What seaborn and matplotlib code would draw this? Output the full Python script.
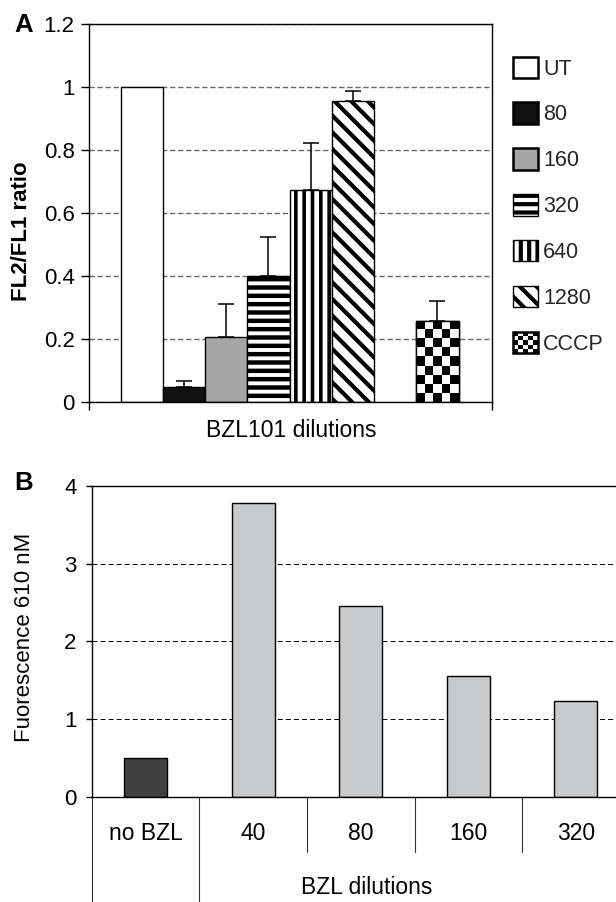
import matplotlib
matplotlib.use("Agg")
import matplotlib.pyplot as plt
import seaborn as sns
import numpy as np
import pandas as pd
from matplotlib.patches import Patch, Rectangle
from matplotlib.legend_handler import HandlerPatch
from matplotlib.transforms import blended_transform_factory

# ---------------- data ----------------
# Panel A
cond_a = ["UT", "80", "160", "320", "640", "1280", "CCCP"]
ratio_a = [1.0, 0.047, 0.206, 0.401, 0.675, 0.957, 0.258]
err_a = [0.0, 0.021, 0.105, 0.122, 0.146, 0.029, 0.062]
slot_order_a = ["UT", "80", "160", "320", "640", "1280", " ", "CCCP"]
yticks_a = [0, 0.2, 0.4, 0.6, 0.8, 1.0, 1.2]
yticklabels_a = ["0", "0.2", "0.4", "0.6", "0.8", "1", "1.2"]

# Panel B
dil_b = ["no BZL", "40", "80", "160", "320"]
fluor_b = [0.50, 3.78, 2.46, 1.56, 1.23]
yticks_b = [0, 1, 2, 3, 4]
group_b = ["", "BZL dilutions"]

# ---------------- style ----------------
sns.set_theme(style="white")
plt.rcParams["font.family"] = ["Liberation Sans", "DejaVu Sans"]
plt.rcParams["hatch.linewidth"] = 3.0
plt.rcParams["lines.scale_dashes"] = False

W, H, DPI = 616, 902, 100
fig = plt.figure(figsize=(W / DPI, H / DPI), dpi=DPI)
fig.patch.set_facecolor("white")


def rect(l, t, r, b):
    return [l / W, 1 - b / H, (r - l) / W, (b - t) / H]


def fx(x):
    return x / W


def fy(y):
    return 1 - y / H


face_a = {"UT": "white", "80": "#111111", "160": "#a6a6a6", "320": "white",
          "640": "white", "1280": "white", "CCCP": "white"}
hatch_a = {"320": "--", "640": "||", "1280": "\\\\"}
hatch_lw_a = {"320": 3.2, "640": 2.6, "1280": 3.0}

# ---------------- panel A ----------------
axA = fig.add_axes(rect(89.3, 24, 492.3, 402.3))
dfA = pd.DataFrame({"cond": cond_a, "ratio": ratio_a})
sns.barplot(data=dfA, x="cond", y="ratio", hue="cond", order=slot_order_a,
            palette=face_a, saturation=1, width=1.0, edgecolor="black",
            linewidth=1.0, errorbar=None, legend=False, ax=axA)
axA.set_xlim(-1.24, 8.30)
axA.set_ylim(0, 1.2)

err_lookup = dict(zip(cond_a, err_a))
for p in list(axA.patches):
    cx = p.get_x() + p.get_width() / 2
    idx = int(round(cx))
    name = slot_order_a[idx]
    p.set_edgecolor("black")
    p.set_linewidth(1.0)
    p.set_zorder(2)
    if name in hatch_a:
        p.set_hatch(hatch_a[name])
        if hasattr(p, "set_hatch_linewidth"):
            p.set_hatch_linewidth(hatch_lw_a[name])
    if name == "CCCP":
        x0, x1 = p.get_x(), p.get_x() + p.get_width()
        y0, y1 = 0, p.get_height()
        (px0, py0), (px1, py1) = axA.transData.transform([(x0, y0), (x1, y1)])
        nx = max(1, int(round((px1 - px0) / 9.0)))
        ny = max(1, int(round((py1 - py0) / 9.0)))
        ii, jj = np.meshgrid(np.arange(nx), np.arange(ny))
        board = ((ii + jj) % 2).astype(float)
        im = axA.imshow(board, extent=(x0, x1, y0, y1), cmap="gray",
                        interpolation="nearest", aspect="auto", zorder=2.1,
                        origin="upper")
        im.set_clip_path(p)
        axA.add_patch(Rectangle((x0, y0), x1 - x0, y1 - y0, fill=False,
                                edgecolor="black", linewidth=1.0, zorder=2.2))
    e = err_lookup.get(name, 0)
    if e > 0:
        axA.errorbar(cx, p.get_height(), yerr=[[0], [e]], fmt="none",
                     ecolor="black", elinewidth=1.1, capsize=6.1,
                     capthick=1.1, zorder=3)
axA.set_xlim(-1.24, 8.30)
axA.set_ylim(0, 1.2)
axA.set_aspect("auto")

axA.set_yticks(yticks_a)
axA.set_yticklabels(yticklabels_a)
axA.set_xticks(list(axA.get_xlim()))
axA.set_xticklabels(["", ""])
axA.set_xlabel("")
axA.set_ylabel("")
axA.yaxis.grid(True, color="#6a6a6a", linestyle=(0, (3.8, 2.0)), linewidth=1.0)
axA.xaxis.grid(False)
axA.set_axisbelow(True)
axA.tick_params(axis="y", left=True, direction="out", length=5.5, width=1.0,
                pad=5.0, labelsize=16, color="black", labelcolor="black")
axA.tick_params(axis="x", bottom=True, direction="out", length=5.5, width=1.0,
                color="black")
for s in axA.spines.values():
    s.set_visible(True)
    s.set_color("black")
    s.set_linewidth(1.0)

fig.text(fx(290.8), fy(430), "BZL101 dilutions", ha="center", va="center",
         fontsize=16.5, color="black")
fig.text(fx(22), fy(231.5), "FL2/FL1 ratio", ha="center", va="center",
         rotation=90, fontsize=16, fontweight="bold", color="black")
fig.text(fx(24), fy(25), "A", ha="center", va="center", fontsize=18.5,
         fontweight="bold", color="black")


# legend for panel A
class CheckerHandler(HandlerPatch):
    def create_artists(self, legend, orig_handle, xdescent, ydescent, width,
                       height, fontsize, trans):
        n = 5
        arts = [Rectangle((-xdescent, -ydescent), width, height,
                          facecolor="white", edgecolor="none", transform=trans)]
        sw, sh = width / n, height / n
        for i in range(n):
            for j in range(n):
                if (i + j) % 2 == 0:
                    arts.append(Rectangle((-xdescent + i * sw, -ydescent + j * sh),
                                          sw, sh, facecolor="black",
                                          edgecolor="none", transform=trans))
        arts.append(Rectangle((-xdescent, -ydescent), width, height,
                              facecolor="none", edgecolor="black", lw=1.8,
                              transform=trans))
        return arts


handles = []
hmap = {}
for name in cond_a:
    if name == "CCCP":
        h = Patch(facecolor="white", edgecolor="black", linewidth=1.8)
        hmap[h] = CheckerHandler()
    else:
        h = Patch(facecolor=face_a[name], edgecolor="black",
                  linewidth=1.8 if name not in hatch_a else 1.0,
                  hatch=hatch_a.get(name))
    handles.append(h)
fig.legend(handles, cond_a, loc="upper left",
           bbox_to_anchor=(fx(513), fy(56.5)), frameon=False, fontsize=15.5,
           handlelength=1.16, handleheight=1.16, handletextpad=0.25,
           labelspacing=1.06, borderpad=0, borderaxespad=0, handler_map=hmap)

# ---------------- panel B ----------------
axB = fig.add_axes(rect(91.7, 485.7, 629.7, 797))
dfB = pd.DataFrame({"dil": dil_b, "fluor": fluor_b})
pal_b = {d: ("#404040" if i == 0 else "#c8c9cb") for i, d in enumerate(dil_b)}
sns.barplot(data=dfB, x="dil", y="fluor", hue="dil", order=dil_b,
            palette=pal_b, saturation=1, width=0.4, edgecolor="black",
            linewidth=1.0, errorbar=None, legend=False, ax=axB)
for p in axB.patches:
    p.set_edgecolor("black")
    p.set_linewidth(1.0)
    p.set_zorder(2)
axB.set_xlim(-0.5, len(dil_b) - 0.5)
axB.set_ylim(0, 4)
axB.set_yticks(yticks_b)
axB.set_yticklabels([str(v) for v in yticks_b])
axB.set_xlabel("")
axB.set_ylabel("")
axB.yaxis.grid(True, color="black", linestyle=(0, (3.6, 2.2)), linewidth=0.7)
axB.xaxis.grid(False)
axB.set_axisbelow(True)
axB.tick_params(axis="y", left=True, direction="out", length=4.5, width=1.0,
                pad=6.5, labelsize=16, color="black", labelcolor="black")
axB.tick_params(axis="x", bottom=False, length=0, pad=18, labelsize=16.5,
                labelcolor="black")
for s in axB.spines.values():
    s.set_visible(True)
    s.set_color("black")
    s.set_linewidth(1.0)

# multi-level category separators
trB = blended_transform_factory(axB.transData, fig.transFigure)
bounds = np.arange(len(dil_b) + 1) - 0.5
outer = [bounds[0], bounds[1]]
for b in bounds:
    if b in outer:
        axB.plot([b, b], [fy(797), 0], transform=trB, color="#333333",
                 lw=0.8, clip_on=False)
    else:
        axB.plot([b, b], [fy(797), fy(852)], transform=trB, color="#333333",
                 lw=0.8, clip_on=False)

fig.text(fx(367), fy(887), group_b[1], ha="center", va="center",
         fontsize=16.5, color="black")
fig.text(fx(25), fy(637.5), "Fuorescence 610 nM", ha="center", va="center",
         rotation=90, fontsize=16, color="black")
fig.text(fx(24), fy(483), "B", ha="center", va="center", fontsize=18.5,
         fontweight="bold", color="black")

fig.savefig("out.png", dpi=DPI)
